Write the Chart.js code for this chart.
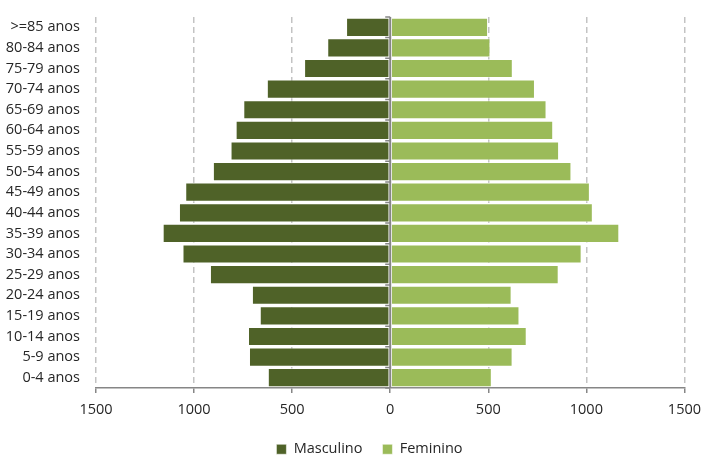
<!DOCTYPE html>
<html>
<head>
<meta charset="utf-8">
<script src="https://cdn.jsdelivr.net/npm/chart.js@4/dist/chart.umd.min.js"></script>
<style>
  html, body { margin: 0; padding: 0; background: #fff; }
  #wrap { width: 709px; height: 455px; position: relative; }
</style>
</head>
<body>
<div id="wrap"><canvas id="c"></canvas></div>
<script>
// Age groups, oldest at the top
const ageGroups = ['>=85 anos', '80-84 anos', '75-79 anos', '70-74 anos', '65-69 anos',
  '60-64 anos', '55-59 anos', '50-54 anos', '45-49 anos', '40-44 anos', '35-39 anos',
  '30-34 anos', '25-29 anos', '20-24 anos', '15-19 anos', '10-14 anos', '5-9 anos', '0-4 anos'];

// Population by sex and age group
const masculino = [225, 321, 439, 629, 749, 788, 814, 904, 1045, 1077, 1160, 1059, 919, 705, 665, 725, 720, 624];
const feminino  = [499, 511, 625, 738, 797, 831, 861, 924, 1018, 1033, 1168, 976, 859, 619, 659, 696, 624, 518];

// Axis ticks
const xTicks = [-1500, -1000, -500, 0, 500, 1000, 1500];

const seriesNames = ['Masculino', 'Feminino'];
const seriesColors = ['#4f6228', '#9bbb59'];

const FONT = { family: '"Open Sans", "DejaVu Sans", sans-serif', size: 14.5 };
const TEXT = '#262626';
const AXIS_GRAY = '#868686';

// Solid line at zero with small ticks between age groups
const zeroAxis = {
  id: 'zeroAxis',
  afterDatasetsDraw(chart) {
    const { ctx, chartArea, scales } = chart;
    const x0 = scales.x.getPixelForValue(0);
    ctx.save();
    ctx.strokeStyle = AXIS_GRAY;
    ctx.lineWidth = 2;
    ctx.beginPath();
    ctx.moveTo(x0, chartArea.top);
    ctx.lineTo(x0, chartArea.bottom);
    ctx.stroke();
    ctx.lineWidth = 1.5;
    const n = ageGroups.length;
    const step = (chartArea.bottom - chartArea.top) / n;
    ctx.beginPath();
    for (let i = 0; i <= n; i++) {
      const y = chartArea.top + i * step;
      ctx.moveTo(x0 - 5, y);
      ctx.lineTo(x0, y);
    }
    ctx.stroke();
    ctx.restore();
  }
};

// Compact legend box, centred a little left of the plot
const legendFit = {
  id: 'legendFit',
  beforeInit(chart) {
    const legend = chart.legend;
    if (!legend) return;
    const fit = legend.fit;
    legend.fit = function () {
      fit.call(this);
      this.height = 33;
    };
  },
  beforeDraw(chart) {
    if (chart.legend) chart.legend.left = 50;
  }
};

new Chart(document.getElementById('c'), {
  type: 'bar',
  data: {
    labels: ageGroups,
    datasets: [
      {
        label: seriesNames[0],
        data: masculino.map(v => -v),
        backgroundColor: seriesColors[0],
        borderColor: 'rgba(255,255,255,0.55)',
        borderWidth: 1,
        borderSkipped: false,
        barPercentage: 0.93,
        categoryPercentage: 1
      },
      {
        label: seriesNames[1],
        data: feminino,
        backgroundColor: seriesColors[1],
        borderColor: 'rgba(255,255,255,0.55)',
        borderWidth: 1,
        borderSkipped: false,
        barPercentage: 0.93,
        categoryPercentage: 1
      }
    ]
  },
  options: {
    indexAxis: 'y',
    responsive: true,
    maintainAspectRatio: false,
    animation: false,
    layout: { padding: { top: 17, right: 20, left: 0, bottom: 0 } },
    scales: {
      x: {
        stacked: true,
        min: xTicks[0],
        max: xTicks[xTicks.length - 1],
        afterBuildTicks(scale) { scale.ticks = xTicks.map(v => ({ value: v })); },
        afterFit(scale) { scale.height = 34; },
        ticks: {
          color: TEXT,
          font: FONT,
          padding: 8,
          maxRotation: 0,
          callback: v => String(Math.abs(v))
        },
        grid: {
          color: ctx => (ctx.tick && ctx.tick.value === 0) ? 'rgba(0,0,0,0)' : '#c3c3c3',
          lineWidth: 1.5,
          drawTicks: true,
          tickLength: 5,
          tickColor: AXIS_GRAY,
          tickWidth: 1.5
        },
        border: { display: true, color: AXIS_GRAY, width: 1.5, dash: [6, 4] }
      },
      y: {
        stacked: true,
        afterFit(scale) { scale.width = 96; },
        ticks: { color: TEXT, font: FONT, padding: 0, autoSkip: false },
        grid: { display: false, drawTicks: true, tickLength: 16 },
        border: { display: false }
      }
    },
    plugins: {
      legend: {
        position: 'bottom',
        labels: {
          color: TEXT,
          font: FONT,
          boxWidth: 10,
          boxHeight: 10,
          padding: 20
        }
      },
      tooltip: { enabled: false }
    }
  },
  plugins: [zeroAxis, legendFit]
});
</script>
</body>
</html>
